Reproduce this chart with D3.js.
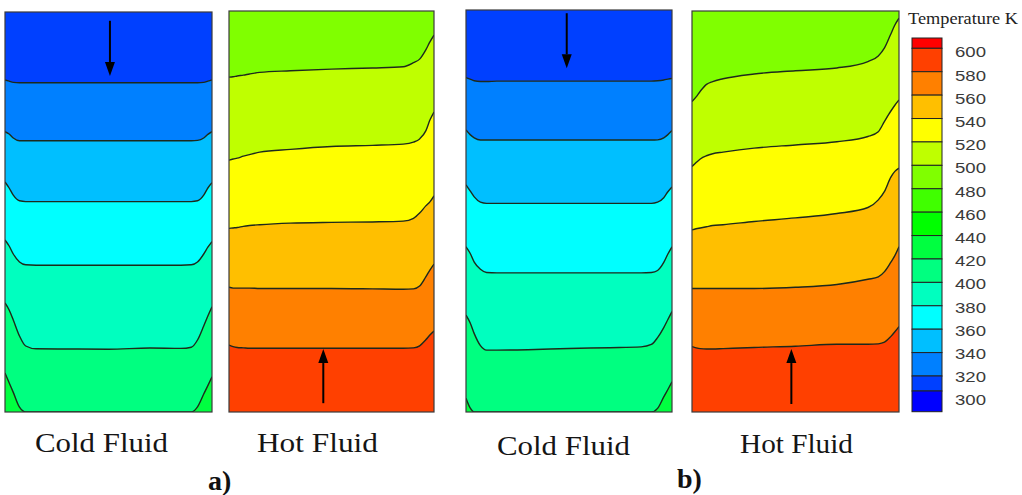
<!DOCTYPE html>
<html>
<head>
<meta charset="utf-8">
<script src="https://cdn.jsdelivr.net/npm/d3@7"></script>
<style>
  html, body { margin: 0; padding: 0; background: #ffffff; }
  svg { display: block; }
</style>
</head>
<body>
<svg id="chart" width="1022" height="495"></svg>
<script>
// ---------------- DATA ----------------
// Temperature levels of the colour legend (top cap first) and their colours
const legendLevels = [620, 600, 580, 560, 540, 520, 500, 480, 460, 440, 420, 400, 380, 360, 340, 320, 300];
const legendColors = ["#ff0000", "#ff4000", "#ff8000", "#ffbf00", "#ffff00", "#bfff00", "#80ff00", "#40ff00",
                      "#00ff00", "#00ff40", "#00ff80", "#00ffbf", "#00ffff", "#00bfff", "#0080ff", "#0040ff", "#0000ff"];
const legendTickLabels = [600, 580, 560, 540, 520, 500, 480, 460, 440, 420, 400, 380, 360, 340, 320, 300];
const legendTitle = "Temperature K";

// Positions across the channel width (0 = left wall, 1 = right wall)
const widthSamples = [0, 0.02, 0.04, 0.07, 0.1, 0.15, 0.3, 0.5, 0.7, 0.85, 0.9, 0.93, 0.96, 0.98, 1];

// Temperature bands from top to bottom of each channel (K)
const coldBandLevels = [320, 340, 360, 380, 400, 420, 440];
const hotBandLevels  = [500, 520, 540, 560, 580, 600];

// Isotherm positions along the channel length (0 = top, 1 = bottom) at each width sample
const coldA_isotherms = [
  [0.170, 0.173, 0.176, 0.177, 0.177, 0.177, 0.177, 0.177, 0.177, 0.177, 0.177, 0.177, 0.176, 0.173, 0.170],
  [0.299, 0.305, 0.315, 0.322, 0.322, 0.322, 0.322, 0.322, 0.322, 0.322, 0.322, 0.321, 0.315, 0.306, 0.299],
  [0.425, 0.440, 0.458, 0.472, 0.474, 0.474, 0.474, 0.474, 0.474, 0.474, 0.474, 0.472, 0.458, 0.440, 0.427],
  [0.570, 0.585, 0.605, 0.625, 0.632, 0.633, 0.633, 0.633, 0.633, 0.633, 0.632, 0.625, 0.605, 0.588, 0.574],
  [0.7275, 0.745, 0.770, 0.810, 0.835, 0.842, 0.8425, 0.843, 0.840, 0.841, 0.838, 0.820, 0.785, 0.760, 0.737],
  [0.9025, 0.927, 0.951, 0.988, 1.000, 1.000, 1.000, 1.000, 1.000, 1.000, 1.000, 0.987, 0.955, 0.934, 0.912]
];
const hotA_isotherms = [
  [0.165, 0.164, 0.162, 0.160, 0.157, 0.153, 0.149, 0.145, 0.142, 0.139, 0.129, 0.120, 0.097, 0.077, 0.060],
  [0.372, 0.369, 0.367, 0.362, 0.358, 0.352, 0.345, 0.338, 0.335, 0.332, 0.327, 0.319, 0.299, 0.272, 0.252],
  [0.542, 0.541, 0.540, 0.537, 0.535, 0.533, 0.529, 0.527, 0.526, 0.524, 0.517, 0.504, 0.486, 0.476, 0.461],
  [0.689, 0.691, 0.691, 0.691, 0.691, 0.692, 0.692, 0.692, 0.693, 0.694, 0.693, 0.686, 0.663, 0.646, 0.631],
  [0.833, 0.837, 0.839, 0.840, 0.841, 0.841, 0.841, 0.841, 0.841, 0.841, 0.840, 0.835, 0.820, 0.808, 0.798]
];
const coldB_isotherms = [
  [0.168, 0.172, 0.176, 0.178, 0.178, 0.177, 0.177, 0.177, 0.177, 0.177, 0.177, 0.176, 0.174, 0.172, 0.170],
  [0.2985, 0.310, 0.318, 0.3235, 0.3235, 0.3235, 0.3235, 0.3235, 0.3235, 0.3235, 0.3235, 0.323, 0.318, 0.310, 0.300],
  [0.435, 0.450, 0.465, 0.478, 0.481, 0.481, 0.481, 0.481, 0.481, 0.481, 0.481, 0.478, 0.467, 0.452, 0.440],
  [0.589, 0.605, 0.627, 0.645, 0.653, 0.654, 0.654, 0.654, 0.654, 0.654, 0.653, 0.648, 0.628, 0.607, 0.589],
  [0.759, 0.778, 0.805, 0.835, 0.846, 0.846, 0.845, 0.842, 0.840, 0.838, 0.832, 0.815, 0.790, 0.770, 0.750],
  [0.966, 0.990, 1.000, 1.000, 1.000, 1.000, 1.000, 1.000, 1.000, 1.000, 1.000, 0.991, 0.9625, 0.944, 0.925]
];
const hotB_isotherms = [
  [0.226, 0.214, 0.200, 0.183, 0.176, 0.169, 0.157, 0.149, 0.142, 0.126, 0.112, 0.092, 0.058, 0.035, 0.018],
  [0.388, 0.378, 0.369, 0.361, 0.356, 0.352, 0.342, 0.334, 0.326, 0.313, 0.301, 0.275, 0.250, 0.235, 0.222],
  [0.546, 0.543, 0.541, 0.538, 0.535, 0.533, 0.525, 0.516, 0.505, 0.490, 0.471, 0.450, 0.415, 0.400, 0.392],
  [0.692, 0.692, 0.692, 0.692, 0.692, 0.692, 0.692, 0.689, 0.682, 0.669, 0.663, 0.650, 0.627, 0.610, 0.588],
  [0.837, 0.840, 0.842, 0.843, 0.843, 0.842, 0.839, 0.836, 0.831, 0.831, 0.830, 0.826, 0.812, 0.800, 0.787]
];

const panelTitles = ["Cold Fluid", "Hot Fluid", "Cold Fluid", "Hot Fluid"];
const caseLabels = ["a)", "b)"];

// ---------------- LAYOUT ----------------
const svg = d3.select("#chart");
const color = d3.scaleOrdinal().domain(legendLevels).range(legendColors);

const panels = [
  { iso: coldA_isotherms, bands: coldBandLevels, box: [5, 212, 12, 412],   arrow: { x: 0.507, from: 0.022, to: 0.160 }, title: { x: 35,  y: 452, w: 133 } },
  { iso: hotA_isotherms,  bands: hotBandLevels,  box: [229, 434, 11, 412], arrow: { x: 0.460, from: 0.978, to: 0.843 }, title: { x: 257, y: 452, w: 121 } },
  { iso: coldB_isotherms, bands: coldBandLevels, box: [466, 672, 10, 412], arrow: { x: 0.489, from: 0.008, to: 0.145 }, title: { x: 497, y: 455, w: 133 } },
  { iso: hotB_isotherms,  bands: hotBandLevels,  box: [692, 899, 11, 412], arrow: { x: 0.480, from: 0.980, to: 0.843 }, title: { x: 740, y: 453, w: 113 } }
];

const defs = svg.append("defs");

panels.forEach((p, i) => {
  const [x0, x1, y0, y1] = p.box;
  const x = d3.scaleLinear().domain([0, 1]).range([x0, x1]);
  const y = d3.scaleLinear().domain([0, 1]).range([y0, y1]);

  defs.append("clipPath").attr("id", "clip" + i)
    .append("rect").attr("x", x0).attr("y", y0).attr("width", x1 - x0).attr("height", y1 - y0);

  const g = svg.append("g").attr("clip-path", `url(#clip${i})`);

  const topLine = widthSamples.map(() => 0);
  const botLine = widthSamples.map(() => 1);
  const bounds = [topLine, ...p.iso, botLine];

  const area = d3.area()
    .x(d => x(d.w))
    .y0(d => y(d.a))
    .y1(d => y(d.b))
    .curve(d3.curveMonotoneX);

  p.bands.forEach((lvl, k) => {
    const pts = widthSamples.map((w, j) => ({ w: w, a: bounds[k][j], b: bounds[k + 1][j] }));
    g.append("path")
      .attr("d", area(pts))
      .attr("fill", color(lvl))
      .attr("stroke", color(lvl))
      .attr("stroke-width", 0.6);
  });

  const line = d3.line()
    .x(d => x(d.w))
    .y(d => y(d.v))
    .curve(d3.curveMonotoneX);

  p.iso.forEach(iso => {
    g.append("path")
      .attr("d", line(widthSamples.map((w, j) => ({ w: w, v: iso[j] }))))
      .attr("fill", "none")
      .attr("stroke", "#1c2a1c")
      .attr("stroke-width", 1.4);
  });

  // flow direction arrow
  const ax = x(p.arrow.x), ay0 = y(p.arrow.from), ay1 = y(p.arrow.to);
  const dir = Math.sign(ay1 - ay0);
  const headLen = 14, headHalf = 5;
  g.append("line")
    .attr("x1", ax).attr("y1", ay0)
    .attr("x2", ax).attr("y2", ay1 - dir * headLen)
    .attr("stroke", "#000").attr("stroke-width", 2);
  g.append("path")
    .attr("d", d3.line()([[ax - headHalf, ay1 - dir * headLen], [ax + headHalf, ay1 - dir * headLen], [ax, ay1]]) + "Z")
    .attr("fill", "#000");

  // frame
  svg.append("rect")
    .attr("x", x0).attr("y", y0).attr("width", x1 - x0).attr("height", y1 - y0)
    .attr("fill", "none").attr("stroke", "#3b3b3b").attr("stroke-width", 1.2);

  // title under panel
  svg.append("text")
    .attr("x", p.title.x).attr("y", p.title.y)
    .attr("textLength", p.title.w).attr("lengthAdjust", "spacingAndGlyphs")
    .attr("font-family", "'Liberation Serif', 'Times New Roman', serif")
    .attr("font-size", 27)
    .attr("fill", "#151515")
    .text(panelTitles[i]);
});

// case labels
const caseLayout = [{ x: 208, y: 490 }, { x: 677, y: 488 }];
caseLabels.forEach((t, i) => {
  svg.append("text")
    .attr("x", caseLayout[i].x).attr("y", caseLayout[i].y)
    .attr("font-family", "'Liberation Serif', 'Times New Roman', serif")
    .attr("font-weight", "bold")
    .attr("font-size", 28)
    .attr("fill", "#111")
    .text(t);
});

// ---------------- LEGEND ----------------
const lx0 = 912, lx1 = 942;
const legY = d3.scaleLinear().domain([620, 600, 320, 300, 280]).range([38, 48.3, 376, 391, 411.7]);
const lg = svg.append("g");
legendLevels.forEach((lvl, k) => {
  const top = legY(lvl), bot = legY(lvl - 20);
  lg.append("rect")
    .attr("x", lx0).attr("y", top).attr("width", lx1 - lx0).attr("height", bot - top)
    .attr("fill", color(lvl))
    .attr("stroke", "#222").attr("stroke-width", 1);
});

const labY = d3.scaleLinear().domain([600, 300]).range([52, 400]);
legendTickLabels.forEach(v => {
  lg.append("text")
    .attr("x", 955).attr("y", labY(v))
    .attr("dy", "0.36em")
    .attr("textLength", 31).attr("lengthAdjust", "spacingAndGlyphs")
    .attr("font-family", "'Liberation Sans', Arial, sans-serif")
    .attr("font-size", 15)
    .attr("fill", "#3a3a3a")
    .text(v);
});

lg.append("text")
  .attr("x", 908).attr("y", 24)
  .attr("textLength", 110).attr("lengthAdjust", "spacingAndGlyphs")
  .attr("font-family", "'Liberation Serif', 'Times New Roman', serif")
  .attr("font-size", 17)
  .attr("fill", "#222")
  .text(legendTitle);
</script>
</body>
</html>
